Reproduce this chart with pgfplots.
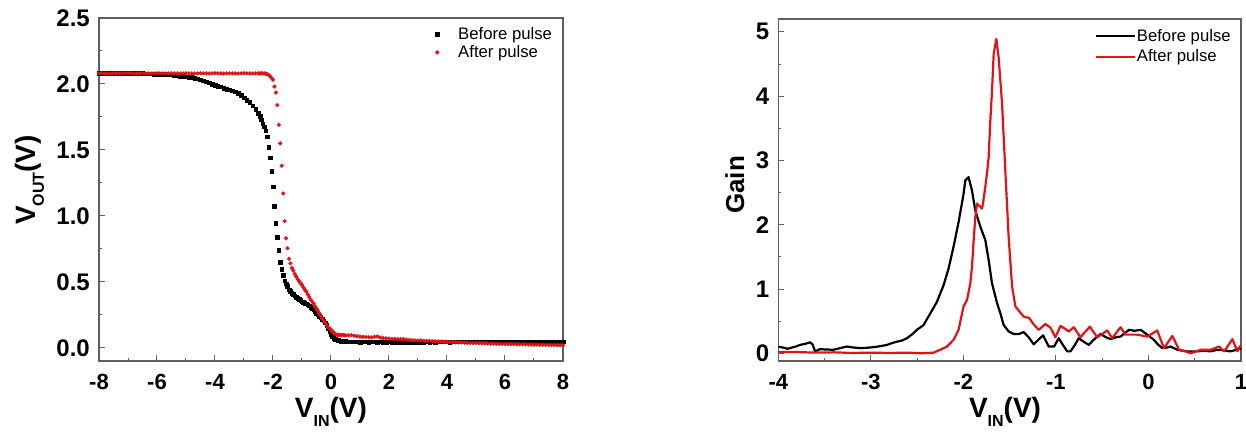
\documentclass[border=0pt]{standalone}
\usepackage{fontspec}
\setmainfont{Liberation Sans}
\usepackage{pgfplots}
\usepackage{pgfplotstable}
\pgfplotsset{compat=1.18}
\definecolor{pulsered}{RGB}{228,18,22}
\definecolor{axisgray}{RGB}{95,95,95}

% transfer curve: VIN, VOUT before pulse, VOUT after pulse
\pgfplotstableread{
vin before after
-8.0 2.080 2.080
-7.9 2.080 2.081
-7.8 2.080 2.080
-7.7 2.080 2.079
-7.6 2.080 2.080
-7.5 2.080 2.081
-7.4 2.080 2.080
-7.3 2.080 2.080
-7.2 2.080 2.079
-7.1 2.080 2.080
-7.0 2.080 2.081
-6.9 2.080 2.080
-6.8 2.080 2.080
-6.7 2.080 2.079
-6.6 2.080 2.080
-6.5 2.080 2.081
-6.4 2.079 2.080
-6.3 2.078 2.080
-6.2 2.077 2.079
-6.1 2.076 2.080
-6.0 2.075 2.081
-5.9 2.074 2.080
-5.8 2.073 2.080
-5.7 2.072 2.079
-5.6 2.071 2.080
-5.5 2.070 2.081
-5.4 2.067 2.080
-5.3 2.064 2.080
-5.2 2.060 2.079
-5.1 2.058 2.080
-5.0 2.055 2.081
-4.9 2.052 2.080
-4.8 2.050 2.080
-4.7 2.045 2.079
-4.6 2.040 2.080
-4.5 2.033 2.081
-4.4 2.025 2.080
-4.3 2.018 2.080
-4.2 2.010 2.079
-4.1 2.000 2.080
-4.0 1.990 2.081
-3.9 1.984 2.080
-3.8 1.978 2.080
-3.7 1.970 2.079
-3.6 1.962 2.080
-3.5 1.958 2.081
-3.4 1.950 2.080
-3.3 1.940 2.080
-3.2 1.930 2.079
-3.1 1.913 2.080
-3.0 1.895 2.081
-2.9 1.878 2.080
-2.8 1.860 2.080
-2.7 1.835 2.079
-2.6 1.810 2.080
-2.5 1.780 2.080
-2.45 1.755 2.080
-2.40 1.730 2.080
-2.35 1.700 2.080
-2.30 1.675 2.080
-2.25 1.645 2.078
-2.20 1.600 2.075
-2.15 1.520 2.068
-2.10 1.440 2.058
-2.05 1.340 2.045
-2.00 1.220 2.032
-1.95 1.075 1.980
-1.90 0.945 1.935
-1.85 0.840 1.840
-1.80 0.740 1.690
-1.75 0.650 1.550
-1.70 0.595 1.380
-1.65 0.550 1.170
-1.60 0.510 0.960
-1.55 0.485 0.830
-1.50 0.465 0.755
-1.45 0.440 0.675
-1.40 0.430 0.640
-1.35 0.415 0.605
-1.30 0.405 0.585
-1.25 0.395 0.560
-1.20 0.385 0.540
-1.15 0.375 0.520
-1.10 0.370 0.505
-1.05 0.360 0.490
-1.00 0.350 0.475
-0.95 0.345 0.458
-0.90 0.340 0.440
-0.85 0.335 0.425
-0.80 0.328 0.405
-0.75 0.318 0.385
-0.70 0.308 0.365
-0.65 0.298 0.350
-0.60 0.288 0.335
-0.55 0.277 0.315
-0.50 0.262 0.298
-0.45 0.250 0.280
-0.40 0.240 0.260
-0.35 0.230 0.240
-0.30 0.218 0.222
-0.25 0.204 0.203
-0.20 0.190 0.188
-0.15 0.170 0.172
-0.10 0.145 0.158
-0.05 0.122 0.148
0.00 0.100 0.138
0.05 0.085 0.125
0.10 0.075 0.112
0.15 0.066 0.105
0.20 0.060 0.100
0.25 0.057 0.098
0.30 0.055 0.097
0.35 0.052 0.096
0.40 0.050 0.097
0.45 0.050 0.095
0.50 0.048 0.094
0.6 0.047 0.094
0.7 0.046 0.096
0.8 0.045 0.092
0.9 0.046 0.088
1.0 0.044 0.085
1.1 0.045 0.084
1.2 0.046 0.082
1.3 0.044 0.080
1.4 0.045 0.079
1.5 0.046 0.084
1.6 0.044 0.086
1.7 0.045 0.078
1.8 0.043 0.074
1.9 0.044 0.072
2.0 0.045 0.070
2.1 0.044 0.068
2.2 0.043 0.067
2.3 0.044 0.066
2.4 0.042 0.065
2.5 0.041 0.066
2.6 0.043 0.062
2.7 0.044 0.060
2.8 0.042 0.058
2.9 0.043 0.056
3.0 0.044 0.055
3.1 0.043 0.056
3.2 0.044 0.053
3.3 0.045 0.052
3.4 0.044 0.053
3.5 0.045 0.050
3.6 0.044 0.049
3.7 0.045 0.048
3.8 0.046 0.047
3.9 0.045 0.046
4.0 0.045 0.045
4.1 0.044 0.044
4.2 0.045 0.043
4.3 0.046 0.042
4.4 0.045 0.041
4.5 0.045 0.040
4.6 0.046 0.039
4.7 0.045 0.038
4.8 0.046 0.037
4.9 0.045 0.036
5.0 0.046 0.036
5.1 0.045 0.035
5.2 0.046 0.034
5.3 0.045 0.034
5.4 0.046 0.033
5.5 0.045 0.032
5.6 0.046 0.032
5.7 0.045 0.031
5.8 0.046 0.030
5.9 0.045 0.030
6.0 0.046 0.029
6.1 0.045 0.029
6.2 0.046 0.028
6.3 0.045 0.028
6.4 0.046 0.027
6.5 0.045 0.027
6.6 0.046 0.026
6.7 0.045 0.026
6.8 0.046 0.025
6.9 0.045 0.025
7.0 0.046 0.024
7.1 0.045 0.024
7.2 0.046 0.023
7.3 0.045 0.023
7.4 0.046 0.022
7.5 0.045 0.022
7.6 0.046 0.021
7.7 0.045 0.021
7.8 0.046 0.020
7.9 0.045 0.020
8.0 0.046 0.019
}\transfer

\pgfplotsset{
  panel/.style={
    scale only axis,
    axis line style={axisgray,line width=1.2pt},
    tick style={axisgray,line width=1pt},
    tick align=inside, xtick pos=bottom, ytick pos=left,
    major tick length=6pt, minor tick length=3pt,
    minor x tick num=1, minor y tick num=1,
    /pgf/number format/assume math mode=true,
    xticklabel style={font=\bfseries\fontsize{22}{22}\selectfont,inner sep=0pt,yshift=-13pt},
    yticklabel style={font=\bfseries\fontsize{24}{24}\selectfont,inner sep=0pt,xshift=-9pt},
    label style={font=\bfseries\fontsize{28}{28}\selectfont},
    legend cell align=left,
    legend style={anchor=north west,draw=none,fill=none,inner xsep=0pt,inner ysep=0pt,
      nodes={inner sep=1pt,text depth=0.15em},font=\fontsize{16.7}{18}\selectfont},
  },
  markleg/.style={legend image code/.code={\path[draw=none,fill=none] (0pt,0pt) -- (20pt,0pt); \draw[##1] plot coordinates {(0pt,0pt)};}},
  lineleg/.style={legend image code/.code={\draw[##1] (0pt,0pt) -- (39pt,0pt);}},
}

\begin{document}
\begin{tikzpicture}
\useasboundingbox (0pt,0pt) rectangle (1246pt,432pt);

% left: transfer characteristic
\begin{axis}[panel,
  at={(99pt,71pt)},anchor=south west,width=464pt,height=343pt,
  xmin=-8,xmax=8,ymin=-0.1,ymax=2.5,
  xtick={-8,-6,...,8},ytick={0,0.5,...,2.5},
  yticklabel style={/pgf/number format/.cd,fixed,fixed zerofill,precision=1},
  xlabel={V\raisebox{-9pt}{\fontsize{16}{16}\selectfont IN}(V)},
  ylabel={V\raisebox{-8pt}{\fontsize{16}{16}\selectfont OUT}(V)},
  xlabel style={at={(axis description cs:0.5,-0.166)},anchor=base},
  ylabel style={at={(axis description cs:-0.136,0.528)},anchor=base},
  legend style={at={(axis description cs:0.7244,0.9764)},row sep=2.7pt},
]
\addplot[only marks,mark=square*,mark size=1.8pt,black,markleg]
  table[x=vin,y=before] {\transfer};
\addlegendentry{Before pulse}
\addplot[only marks,mark=*,mark size=1.9pt,pulsered,markleg]
  table[x=vin,y=after] {\transfer};
\addlegendentry{After pulse}
\end{axis}

% right: voltage gain
\begin{axis}[panel,lineleg,
  at={(778.3pt,71pt)},anchor=south west,width=462.7pt,height=342pt,
  xmin=-4,xmax=1,ymin=-0.12,ymax=5.2,
  xtick={-4,...,1},ytick={0,...,5},
  xlabel={V\raisebox{-9pt}{\fontsize{16}{16}\selectfont IN}(V)},
  ylabel={Gain},
  xlabel style={at={(axis description cs:0.49,-0.166)},anchor=base},
  ylabel style={at={(axis description cs:-0.074,0.515)},anchor=base,font=\bfseries\fontsize{26}{26}\selectfont},
  legend style={at={(axis description cs:0.6834,0.9743)},row sep=5.3pt},
]
\addplot[black,line width=2.2pt,line join=round] coordinates {
(-4.00,0.10) (-3.95,0.09) (-3.90,0.07) (-3.85,0.09) (-3.80,0.11) (-3.767,0.13)
(-3.70,0.15) (-3.659,0.17) (-3.63,0.14) (-3.603,0.03) (-3.549,0.065) (-3.50,0.06)
(-3.405,0.055) (-3.33,0.08) (-3.26,0.105) (-3.19,0.09) (-3.116,0.08) (-3.05,0.085)
(-2.972,0.095) (-2.90,0.11) (-2.827,0.13) (-2.77,0.16) (-2.719,0.18) (-2.66,0.20)
(-2.61,0.235) (-2.55,0.30) (-2.502,0.365) (-2.43,0.44) (-2.358,0.62) (-2.286,0.80)
(-2.214,1.06) (-2.16,1.32) (-2.106,1.66) (-2.052,2.04) (-1.998,2.48) (-1.979,2.69)
(-1.944,2.74) (-1.907,2.53) (-1.871,2.22) (-1.817,1.97) (-1.763,1.76) (-1.727,1.45)
(-1.691,1.09) (-1.636,0.78) (-1.60,0.62) (-1.565,0.44) (-1.511,0.34) (-1.457,0.30)
(-1.40,0.30) (-1.348,0.33) (-1.29,0.24) (-1.24,0.14) (-1.19,0.21) (-1.139,0.28)
(-1.078,0.105) (-1.02,0.105) (-0.97,0.235) (-0.92,0.12) (-0.879,0.03) (-0.843,0.03)
(-0.80,0.12) (-0.753,0.235) (-0.70,0.18) (-0.645,0.13) (-0.60,0.20) (-0.518,0.30)
(-0.46,0.25) (-0.41,0.22) (-0.35,0.25) (-0.302,0.26) (-0.24,0.33) (-0.212,0.365)
(-0.15,0.35) (-0.085,0.365) (-0.013,0.29) (0.058,0.21) (0.10,0.14) (0.149,0.08)
(0.20,0.09) (0.24,0.105) (0.312,0.055) (0.37,0.04) (0.42,0.03) (0.53,0.03)
(0.60,0.04) (0.672,0.03) (0.73,0.05) (0.78,0.055) (0.83,0.04) (0.886,0.03)
(0.94,0.05) (0.978,0.08) (1.00,0.06)
};
\addlegendentry{Before pulse}
\addplot[pulsered,line width=2.2pt,line join=round] coordinates {
(-4.00,0.02) (-3.80,0.02) (-3.60,0.01) (-3.40,0.015) (-3.20,0.005) (-3.00,0.01)
(-2.80,0.005) (-2.60,0.01) (-2.45,0.0) (-2.322,0.01) (-2.25,0.055) (-2.177,0.105)
(-2.106,0.21) (-2.052,0.365) (-2.015,0.62) (-1.998,0.73) (-1.961,0.83) (-1.925,1.09)
(-1.907,1.35) (-1.889,1.76) (-1.871,2.12) (-1.853,2.33) (-1.835,2.30) (-1.817,2.28)
(-1.799,2.25) (-1.788,2.33) (-1.763,2.59) (-1.745,2.80) (-1.727,3.05) (-1.709,3.62)
(-1.690,4.10) (-1.673,4.65) (-1.644,4.89) (-1.619,4.60) (-1.582,3.88) (-1.547,2.84)
(-1.511,1.81) (-1.474,1.04) (-1.438,0.73) (-1.40,0.66) (-1.348,0.57) (-1.29,0.55)
(-1.24,0.45) (-1.186,0.365) (-1.114,0.455) (-1.06,0.40) (-1.006,0.25) (-0.951,0.425)
(-0.90,0.38) (-0.861,0.34) (-0.807,0.405) (-0.735,0.25) (-0.634,0.415) (-0.554,0.25)
(-0.50,0.30) (-0.446,0.355) (-0.392,0.235) (-0.302,0.405) (-0.247,0.29) (-0.18,0.29)
(-0.121,0.29) (-0.013,0.26) (0.095,0.355) (0.167,0.08) (0.258,0.27) (0.33,0.055)
(0.40,0.03) (0.456,0.0) (0.564,0.055) (0.672,0.055) (0.762,0.105) (0.818,0.03)
(0.907,0.22) (0.961,0.03) (1.00,0.13)
};
\addlegendentry{After pulse}
\end{axis}
\end{tikzpicture}
\end{document}
